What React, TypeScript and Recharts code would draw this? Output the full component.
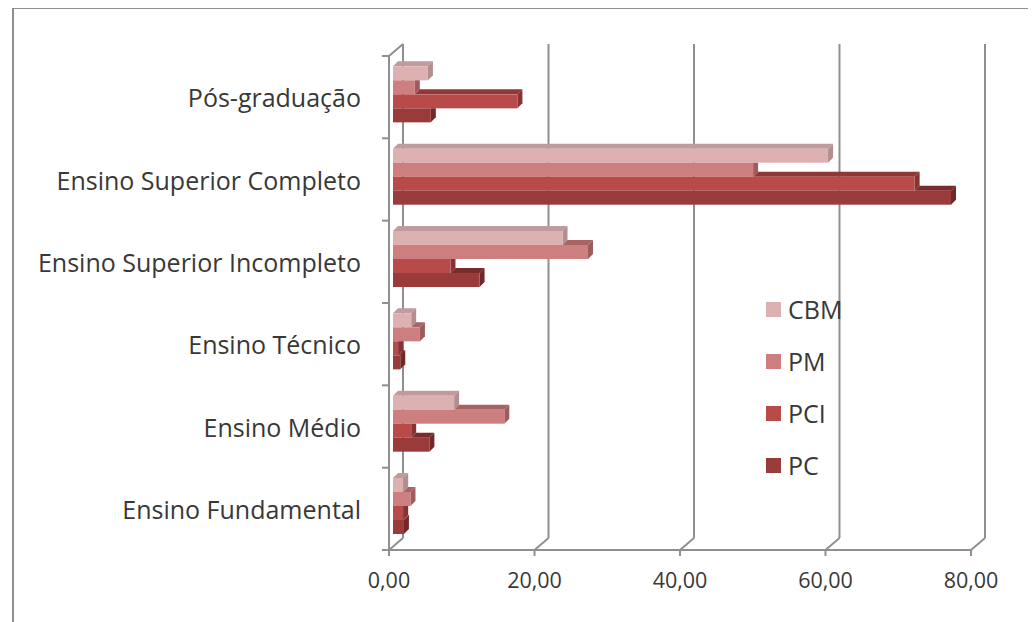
import React from 'react';
import { BarChart, Bar, XAxis, YAxis, CartesianGrid, Legend } from 'recharts';

const CATEGORIES = [
  'Pós-graduação',
  'Ensino Superior Completo',
  'Ensino Superior Incompleto',
  'Ensino Técnico',
  'Ensino Médio',
  'Ensino Fundamental',
];
const SERIES = ['CBM', 'PM', 'PCI', 'PC'];
const CBM = [4.8, 59.8, 23.3, 2.5, 8.4, 1.4];
const PM = [3.0, 49.5, 26.8, 3.7, 15.3, 2.4];
const PCI = [17.1, 71.7, 7.9, 0.7, 2.5, 1.4];
const PC = [5.2, 76.7, 11.9, 1.0, 5.0, 1.5];
const X_TICKS = [0, 20, 40, 60, 80];

const VALUES: Record<string, number[]> = { CBM, PM, PCI, PC };
const data = CATEGORIES.map((name, i) => {
  const row: Record<string, any> = { name };
  SERIES.forEach((s) => (row[s] = VALUES[s][i]));
  return row;
});

const COLORS: Record<string, { front: string; top: string; side: string }> = {
  CBM: { front: '#ddb0b1', top: '#bf9a9e', side: '#b38e90' },
  PM: { front: '#cd7f80', top: '#a86465', side: '#9f5b5c' },
  PCI: { front: '#b84a49', top: '#8f3837', side: '#883333' },
  PC: { front: '#9a3b3b', top: '#7a2b2b', side: '#722828' },
};

const W = 1028;
const H = 614;
const MARGIN = { top: 48, right: 65, left: 0, bottom: 42 };
const X_AXIS_H = 30;
const Y_AXIS_W = 381;
const PLOT_H = H - MARGIN.top - MARGIN.bottom - X_AXIS_H;
const BAND = PLOT_H / CATEGORIES.length;
const TICK_SIZE = 6;
const TICK_MARGIN = 22;

// 3D style offsets
const WALL = { dx: 14, dy: -12 };
const BAR_SHIFT = { dx: 4, dy: -2 };
const DEPTH = { dx: 5, dy: -5 };

const AXIS_COLOR = '#8f8f8f';
const TEXT_COLOR = '#383838';
const FONT = '"Open Sans", sans-serif';
const LABEL_SIZE = 25;
const NUM_SIZE = 21.5;

function makeShape(i: number) {
  const key = SERIES[i];
  return (props: any) => {
    const { x, y, width, height, payload } = props;
    const v = payload[key];
    const ppu = v ? width / v : 0;
    const fx = x + BAR_SHIFT.dx;
    const fy = y + BAR_SHIFT.dy;
    const w = width;
    const h = height;
    const prevW = i > 0 ? payload[SERIES[i - 1]] * ppu : 0;
    const c = COLORS[key];
    const topStart = fx + Math.max(0, prevW);
    const showTop = prevW < w;
    const sidePts = prevW > w
      ? `${fx + w},${fy} ${fx + w + DEPTH.dx},${fy} ${fx + w + DEPTH.dx},${fy + h + DEPTH.dy} ${fx + w},${fy + h}`
      : `${fx + w},${fy} ${fx + w + DEPTH.dx},${fy + DEPTH.dy} ${fx + w + DEPTH.dx},${fy + h + DEPTH.dy} ${fx + w},${fy + h}`;
    return (
      <g>
        {showTop && (
          <polygon
            points={`${topStart},${fy} ${topStart + DEPTH.dx},${fy + DEPTH.dy} ${fx + w + DEPTH.dx},${fy + DEPTH.dy} ${fx + w},${fy}`}
            fill={c.top}
          />
        )}
        <polygon points={sidePts} fill={c.side} />
        <rect x={fx} y={fy} width={w} height={h} fill={c.front} />
      </g>
    );
  };
}

const YTick = (props: any) => {
  const { x, y, payload, index } = props;
  const axisX = x + TICK_SIZE + TICK_MARGIN;
  const top = y - BAND / 2;
  const bottom = y + BAND / 2;
  return (
    <g>
      <line x1={axisX - 7} x2={axisX} y1={top} y2={top} stroke={AXIS_COLOR} strokeWidth={2} />
      {index === 0 && (
        <line x1={axisX} y1={top} x2={axisX + WALL.dx} y2={top + WALL.dy} stroke={AXIS_COLOR} strokeWidth={2} />
      )}
      {index === CATEGORIES.length - 1 && (
        <line x1={axisX - 7} x2={axisX} y1={bottom} y2={bottom} stroke={AXIS_COLOR} strokeWidth={2} />
      )}
      <text
        x={x}
        y={y}
        dy="0.4em"
        textAnchor="end"
        fill={TEXT_COLOR}
        fontSize={LABEL_SIZE}
        fontFamily={FONT}
      >
        {payload.value}
      </text>
    </g>
  );
};

const gridLine = (p: any) => {
  const { x1, y1, y2, key } = p;
  return (
    <g key={key}>
      <line x1={x1 + WALL.dx} x2={x1 + WALL.dx} y1={y1 + WALL.dy} y2={y2 + WALL.dy} stroke={AXIS_COLOR} strokeWidth={2} />
      <line x1={x1} y1={y2} x2={x1 + WALL.dx} y2={y2 + WALL.dy} stroke={AXIS_COLOR} strokeWidth={2} />
    </g>
  );
};

const LegendContent = () => (
  <div style={{ fontFamily: FONT, fontSize: LABEL_SIZE, color: TEXT_COLOR, lineHeight: 1 }}>
    {SERIES.map((s) => (
      <div key={s} style={{ display: 'flex', alignItems: 'center', height: 52 }}>
        <span style={{ display: 'inline-block', width: 15, height: 15, background: COLORS[s].front, marginRight: 7, flex: 'none' }} />
        <span>{s}</span>
      </div>
    ))}
  </div>
);

export default function App() {
  return (
    <div style={{ position: 'relative', width: W, height: H, background: '#fff' }}>
      <div
        style={{
          position: 'absolute',
          left: 4,
          top: -1,
          width: W,
          height: H + 10,
          borderLeft: `2px solid ${AXIS_COLOR}`,
          borderTop: `2px solid ${AXIS_COLOR}`,
          boxSizing: 'border-box',
        }}
      />
      <BarChart
        width={W}
        height={H}
        data={data}
        layout="vertical"
        margin={MARGIN}
        barCategoryGap="15%"
        barGap={0}
        style={{ position: 'absolute', left: 0, top: 0 }}
      >
        <CartesianGrid horizontal={false} vertical={gridLine as any} />
        <XAxis
          type="number"
          domain={[0, 80]}
          ticks={X_TICKS}
          height={X_AXIS_H}
          tickFormatter={(v: number) => v.toFixed(2).replace('.', ',')}
          tick={{ fill: TEXT_COLOR, fontSize: NUM_SIZE, fontFamily: FONT }}
          tickSize={6}
          tickMargin={17}
          axisLine={{ stroke: AXIS_COLOR, strokeWidth: 2 }}
          tickLine={{ stroke: AXIS_COLOR, strokeWidth: 2 }}
          interval={0}
        />
        <YAxis
          type="category"
          dataKey="name"
          width={Y_AXIS_W}
          tick={<YTick />}
          tickSize={TICK_SIZE}
          tickMargin={TICK_MARGIN}
          tickLine={false}
          axisLine={{ stroke: AXIS_COLOR, strokeWidth: 2 }}
          interval={0}
        />
        {SERIES.map((s, i) => (
          <Bar key={s} dataKey={s} fill={COLORS[s].front} shape={makeShape(i)} isAnimationActive={false} />
        ))}
        <Legend
          layout="vertical"
          align="center"
          verticalAlign="middle"
          wrapperStyle={{ left: 758, top: 275, width: 130 }}
          content={<LegendContent />}
        />
      </BarChart>
    </div>
  );
}
